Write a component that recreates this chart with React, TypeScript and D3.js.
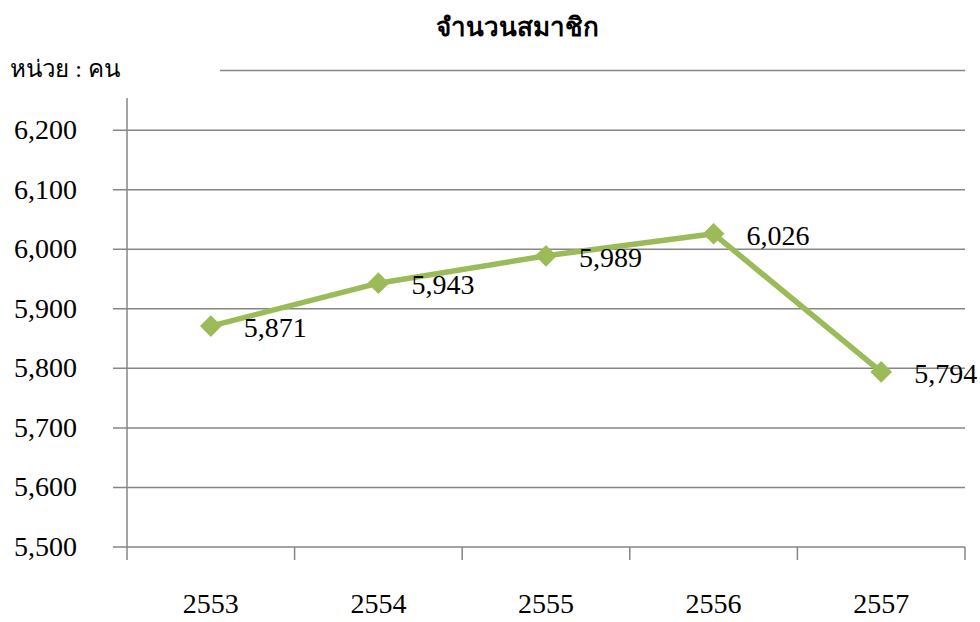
import React, { useEffect, useRef } from 'react';
import * as d3 from 'd3';

const years = ['2553', '2554', '2555', '2556', '2557'];
const members = [5871, 5943, 5989, 6026, 5794];
const yTicks = [5500, 5600, 5700, 5800, 5900, 6000, 6100, 6200];

const App = () => {
  const svgRef = useRef<SVGSVGElement>(null);

  useEffect(() => {
    const svg = d3.select(svgRef.current);
    svg.selectAll('*').remove();

    const font = "'Liberation Serif', Tinos, 'Times New Roman', 'DejaVu Serif', serif";
    const left = 127, right = 965, top = 70.6, bottom = 547;

    const x = d3.scaleBand<string>().domain(years).range([left, right]);
    const y = d3.scaleLinear().domain([5500, 6300]).range([bottom, top]);
    const grey = '#868686';

    svg.attr('font-family', font);

    // title
    svg.append('text').attr('x', 517).attr('y', 36).attr('text-anchor', 'middle')
      .attr('font-size', 26).attr('font-weight', 'bold')
      .text('จำนวนสมาชิก');

    // top gridline (partly covered by the unit label box)
    svg.append('line').attr('x1', 220).attr('x2', right).attr('y1', y(6300)).attr('y2', y(6300))
      .attr('stroke', grey).attr('stroke-width', 1.5);

    svg.append('text').attr('x', 10).attr('y', 77).attr('font-size', 24)
      .attr('textLength', 110).attr('lengthAdjust', 'spacingAndGlyphs')
      .text('หน่วย : คน');

    // gridlines
    svg.append('g').selectAll('line').data(yTicks.filter(t => t > 5500)).join('line')
      .attr('x1', left - 14).attr('x2', right)
      .attr('y1', d => y(d)).attr('y2', d => y(d))
      .attr('stroke', grey).attr('stroke-width', 1.5);

    // y axis
    svg.append('line').attr('x1', left).attr('x2', left).attr('y1', 98).attr('y2', bottom)
      .attr('stroke', grey).attr('stroke-width', 1.5);
    svg.append('g').selectAll('text').data(yTicks).join('text')
      .attr('x', 77).attr('y', d => y(d) + 9).attr('text-anchor', 'end').attr('font-size', 28)
      .text(d => d3.format(',')(d));

    // x axis
    svg.append('line').attr('x1', left - 14).attr('x2', right).attr('y1', bottom).attr('y2', bottom)
      .attr('stroke', grey).attr('stroke-width', 1.5);
    const bounds = years.map(d => x(d)!).concat([right]);
    svg.append('g').selectAll('line').data(bounds).join('line')
      .attr('x1', d => d).attr('x2', d => d).attr('y1', bottom).attr('y2', bottom + 13)
      .attr('stroke', grey).attr('stroke-width', 1.5);
    svg.append('g').selectAll('text').data(years).join('text')
      .attr('x', d => x(d)! + x.bandwidth() / 2).attr('y', 613).attr('text-anchor', 'middle')
      .attr('font-size', 28)
      .text(d => d);

    const cx = (i: number) => x(years[i])! + x.bandwidth() / 2;

    // line
    const line = d3.line<number>().x((_, i) => cx(i)).y(d => y(d));
    svg.append('path').datum(members).attr('d', line)
      .attr('fill', 'none').attr('stroke', '#9BBB59').attr('stroke-width', 5.5)
      .attr('stroke-linejoin', 'round');

    // markers
    svg.append('g').selectAll('path').data(members).join('path')
      .attr('d', d3.symbol().type(d3.symbolDiamond2).size(300)!)
      .attr('transform', (d, i) => `translate(${cx(i)},${y(d)})`)
      .attr('fill', '#9BBB59');

    // labels
    svg.append('g').selectAll('text').data(members).join('text')
      .attr('x', (d, i) => cx(i) + 33).attr('y', d => y(d) + 11).attr('font-size', 28)
      .text(d => d3.format(',')(d));
  }, []);

  return <svg ref={svgRef} width={980} height={622} style={{ position: 'absolute', left: 0, top: 0 }} />;
};

export default App;
